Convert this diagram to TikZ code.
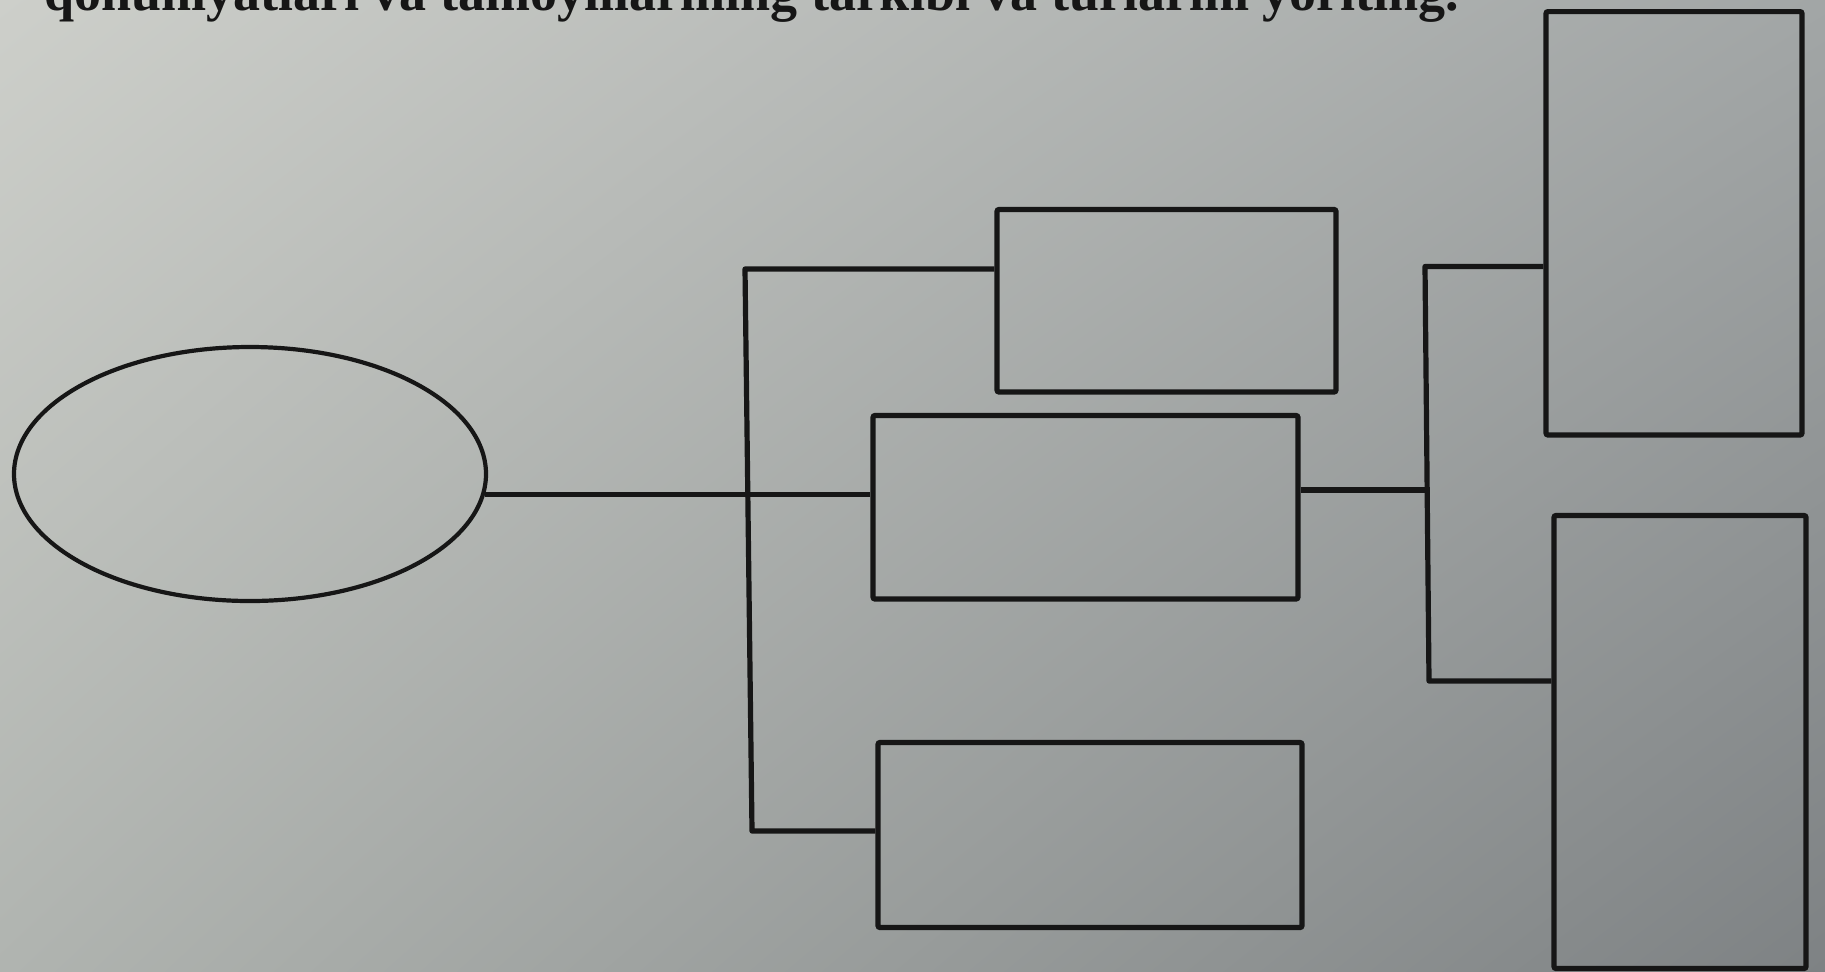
\documentclass[tikz,border=0pt]{standalone}
\usepackage{fontspec}
\setmainfont{Liberation Serif}
\usetikzlibrary{shapes.geometric,shadings}
\definecolor{ink}{RGB}{22,22,22}
\definecolor{bgUL}{RGB}{205,207,202}
\definecolor{bgUR}{RGB}{162,166,166}
\definecolor{bgLL}{RGB}{176,180,176}
\definecolor{bgLR}{RGB}{126,130,132}
\tikzset{
  box/.style={draw=ink, line width=2.6pt, rectangle, inner sep=0pt, rounded corners=1pt},
  oval/.style={draw=ink, line width=2.1pt, ellipse, inner sep=0pt},
  link/.style={draw=ink, line width=2.6pt, line join=round},
}
\begin{document}
\begin{tikzpicture}[x=0.5pt,y=-0.5pt]
\useasboundingbox (0,0) rectangle (1825,971);
\shade[upper left=bgUL, upper right=bgUR, lower left=bgLL, lower right=bgLR] (0,0) rectangle (1825,971);
\node[anchor=base west, inner sep=0pt, text=ink, font=\fontsize{27}{27}\selectfont\bfseries] (title) at (44,10) {qonuniyatlari va tamoyillarining tarkibi va turlarini yoriting.};
% shapes
\node[oval, minimum width=236pt, minimum height=127pt] (e) at (250,474) {};
\node[box, minimum width=169.5pt, minimum height=91.25pt] (top) at (1166.5,300.75) {};
\node[box, minimum width=212.5pt, minimum height=91.75pt] (mid) at (1085.5,507.25) {};
\node[box, minimum width=212pt, minimum height=92.5pt] (bot) at (1090,835) {};
\node[box, minimum width=128pt, minimum height=211.7pt] (rt) at (1674,223.3) {};
\node[box, minimum width=126pt, minimum height=226.5pt] (rb) at (1680,742) {};
% junctions
\coordinate (j1) at (745,269);
\coordinate (j3) at (752,831);
\coordinate (k1) at (1425,266.5);
\coordinate (k2) at (1427,490);
\coordinate (k3) at (1429,681);
% connectors
\draw[link] (e.-5) -- (e.-5 -| mid.west);
\draw[link] (top.west |- j1) -- (j1) -- (j3) -- (j3 -| bot.west);
\draw[link] (k2 -| mid.east) -- (k2);
\draw[link] (rt.west |- k1) -- (k1) -- (k3) -- (k3 -| rb.west);
\end{tikzpicture}
\end{document}
